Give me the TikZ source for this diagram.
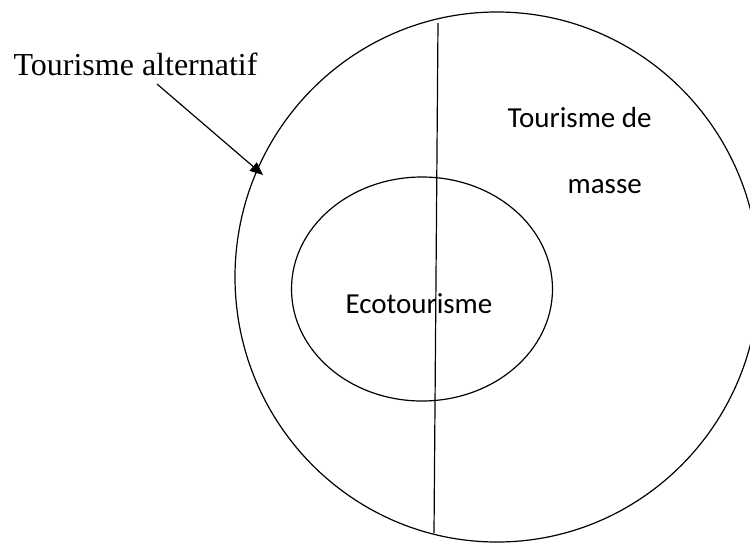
\documentclass[tikz,border=0pt]{standalone}
\usepackage{fontspec}
\setmainfont{Liberation Serif}
\newfontfamily\calfont{Carlito}
\usetikzlibrary{shapes.geometric, arrows.meta}

\begin{document}
\begin{tikzpicture}[x=1pt, y=-1pt, line width=1.2pt,
    zone/.style={ellipse, draw, inner sep=0pt},
    label/.style={anchor=base west, inner sep=0pt, font=\calfont\fontsize{29}{29}\selectfont}]

    \useasboundingbox (0,0) rectangle (750,542);
    \clip (0,0) rectangle (750,542);

    \node [zone, minimum width=524pt, minimum height=530pt] (alt) at (497 , 277) {};
    \node [zone, minimum width=261pt, minimum height=224pt] (eco) at (422 , 289) {};

    \node [label] (masse1) at (507 , 127) {Tourisme de};
    \node [label] (masse2) at (567 , 193) {masse};
    \node [label] (ecot) at (345 , 313) {Ecotourisme};
    \node [anchor=base west, inner sep=0pt, font=\fontsize{32}{32}\selectfont] (alttext) at (13 , 75) {Tourisme alternatif};

    \coordinate (top) at (438 , 23);
    \coordinate (bottom) at (434 , 533);
    \coordinate (from) at (157 , 84);
    \coordinate (tip) at (263 , 175);

    \draw (top) -- (bottom);
    \draw[-{Triangle[length=13pt, width=11pt]}] (from) -- (tip);
\end{tikzpicture}
\end{document}
